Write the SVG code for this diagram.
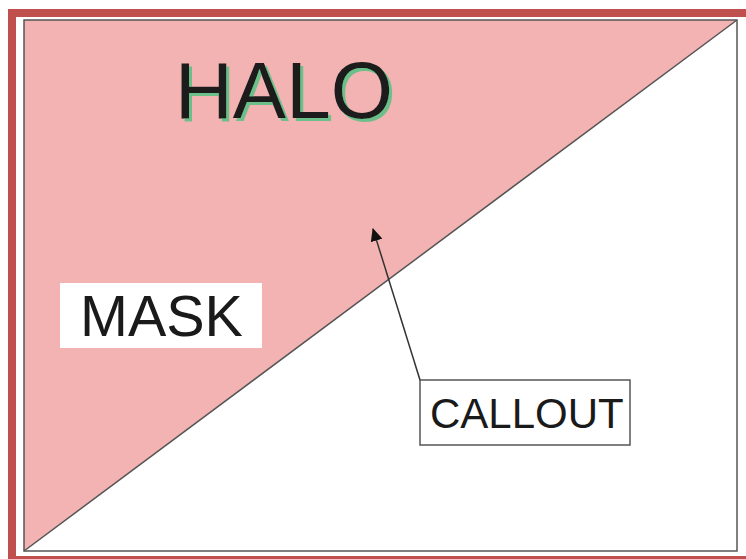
<svg xmlns="http://www.w3.org/2000/svg" width="746" height="559" viewBox="0 0 746 559">
<style>
.lbl{font-family:"Liberation Sans",Arial,sans-serif;fill:#1a1a1a}
.box{fill:#ffffff}
</style>
<defs>
<marker id="ah" markerWidth="13" markerHeight="12" refX="12" refY="6" orient="auto" markerUnits="userSpaceOnUse">
<path d="M0,0 L13,6 L0,12 Z" fill="#111"/>
</marker>
<filter id="halo-shadow" x="-10%" y="-20%" width="130%" height="150%">
<feOffset in="SourceAlpha" dx="3" dy="3" result="off"/>
<feFlood flood-color="#6dbf8a"/>
<feComposite in2="off" operator="in" result="sh"/>
<feMerge><feMergeNode in="sh"/><feMergeNode in="SourceGraphic"/></feMerge>
</filter>
</defs>
<rect x="0" y="0" width="746" height="559" fill="#ffffff"/>
<rect x="12" y="13" width="738" height="547" fill="none" stroke="#c0504d" stroke-width="8"/>
<g id="mask-area">
<polygon points="24,20 737,20 24,551" fill="#f4b3b3"/>
<rect x="24" y="20" width="713" height="531" fill="none" stroke="#555" stroke-width="1.5"/>
<line x1="24" y1="551" x2="737" y2="20" stroke="#555" stroke-width="1.5"/>
</g>
<g id="halo">
<text x="175" y="118" class="lbl" font-size="80" filter="url(#halo-shadow)">HALO</text>
</g>
<g id="mask">
<rect x="60" y="283" width="202" height="65" class="box"/>
<text x="80" y="336" class="lbl" font-size="57.5">MASK</text>
</g>
<g id="callout">
<rect x="420" y="380" width="210" height="65" class="box" stroke="#555" stroke-width="1.5"/>
<text x="430" y="428" class="lbl" font-size="42">CALLOUT</text>
</g>
<g id="connectors">
<line x1="420" y1="380" x2="373" y2="229" stroke="#333" stroke-width="1.5" marker-end="url(#ah)"/>
</g>
</svg>
